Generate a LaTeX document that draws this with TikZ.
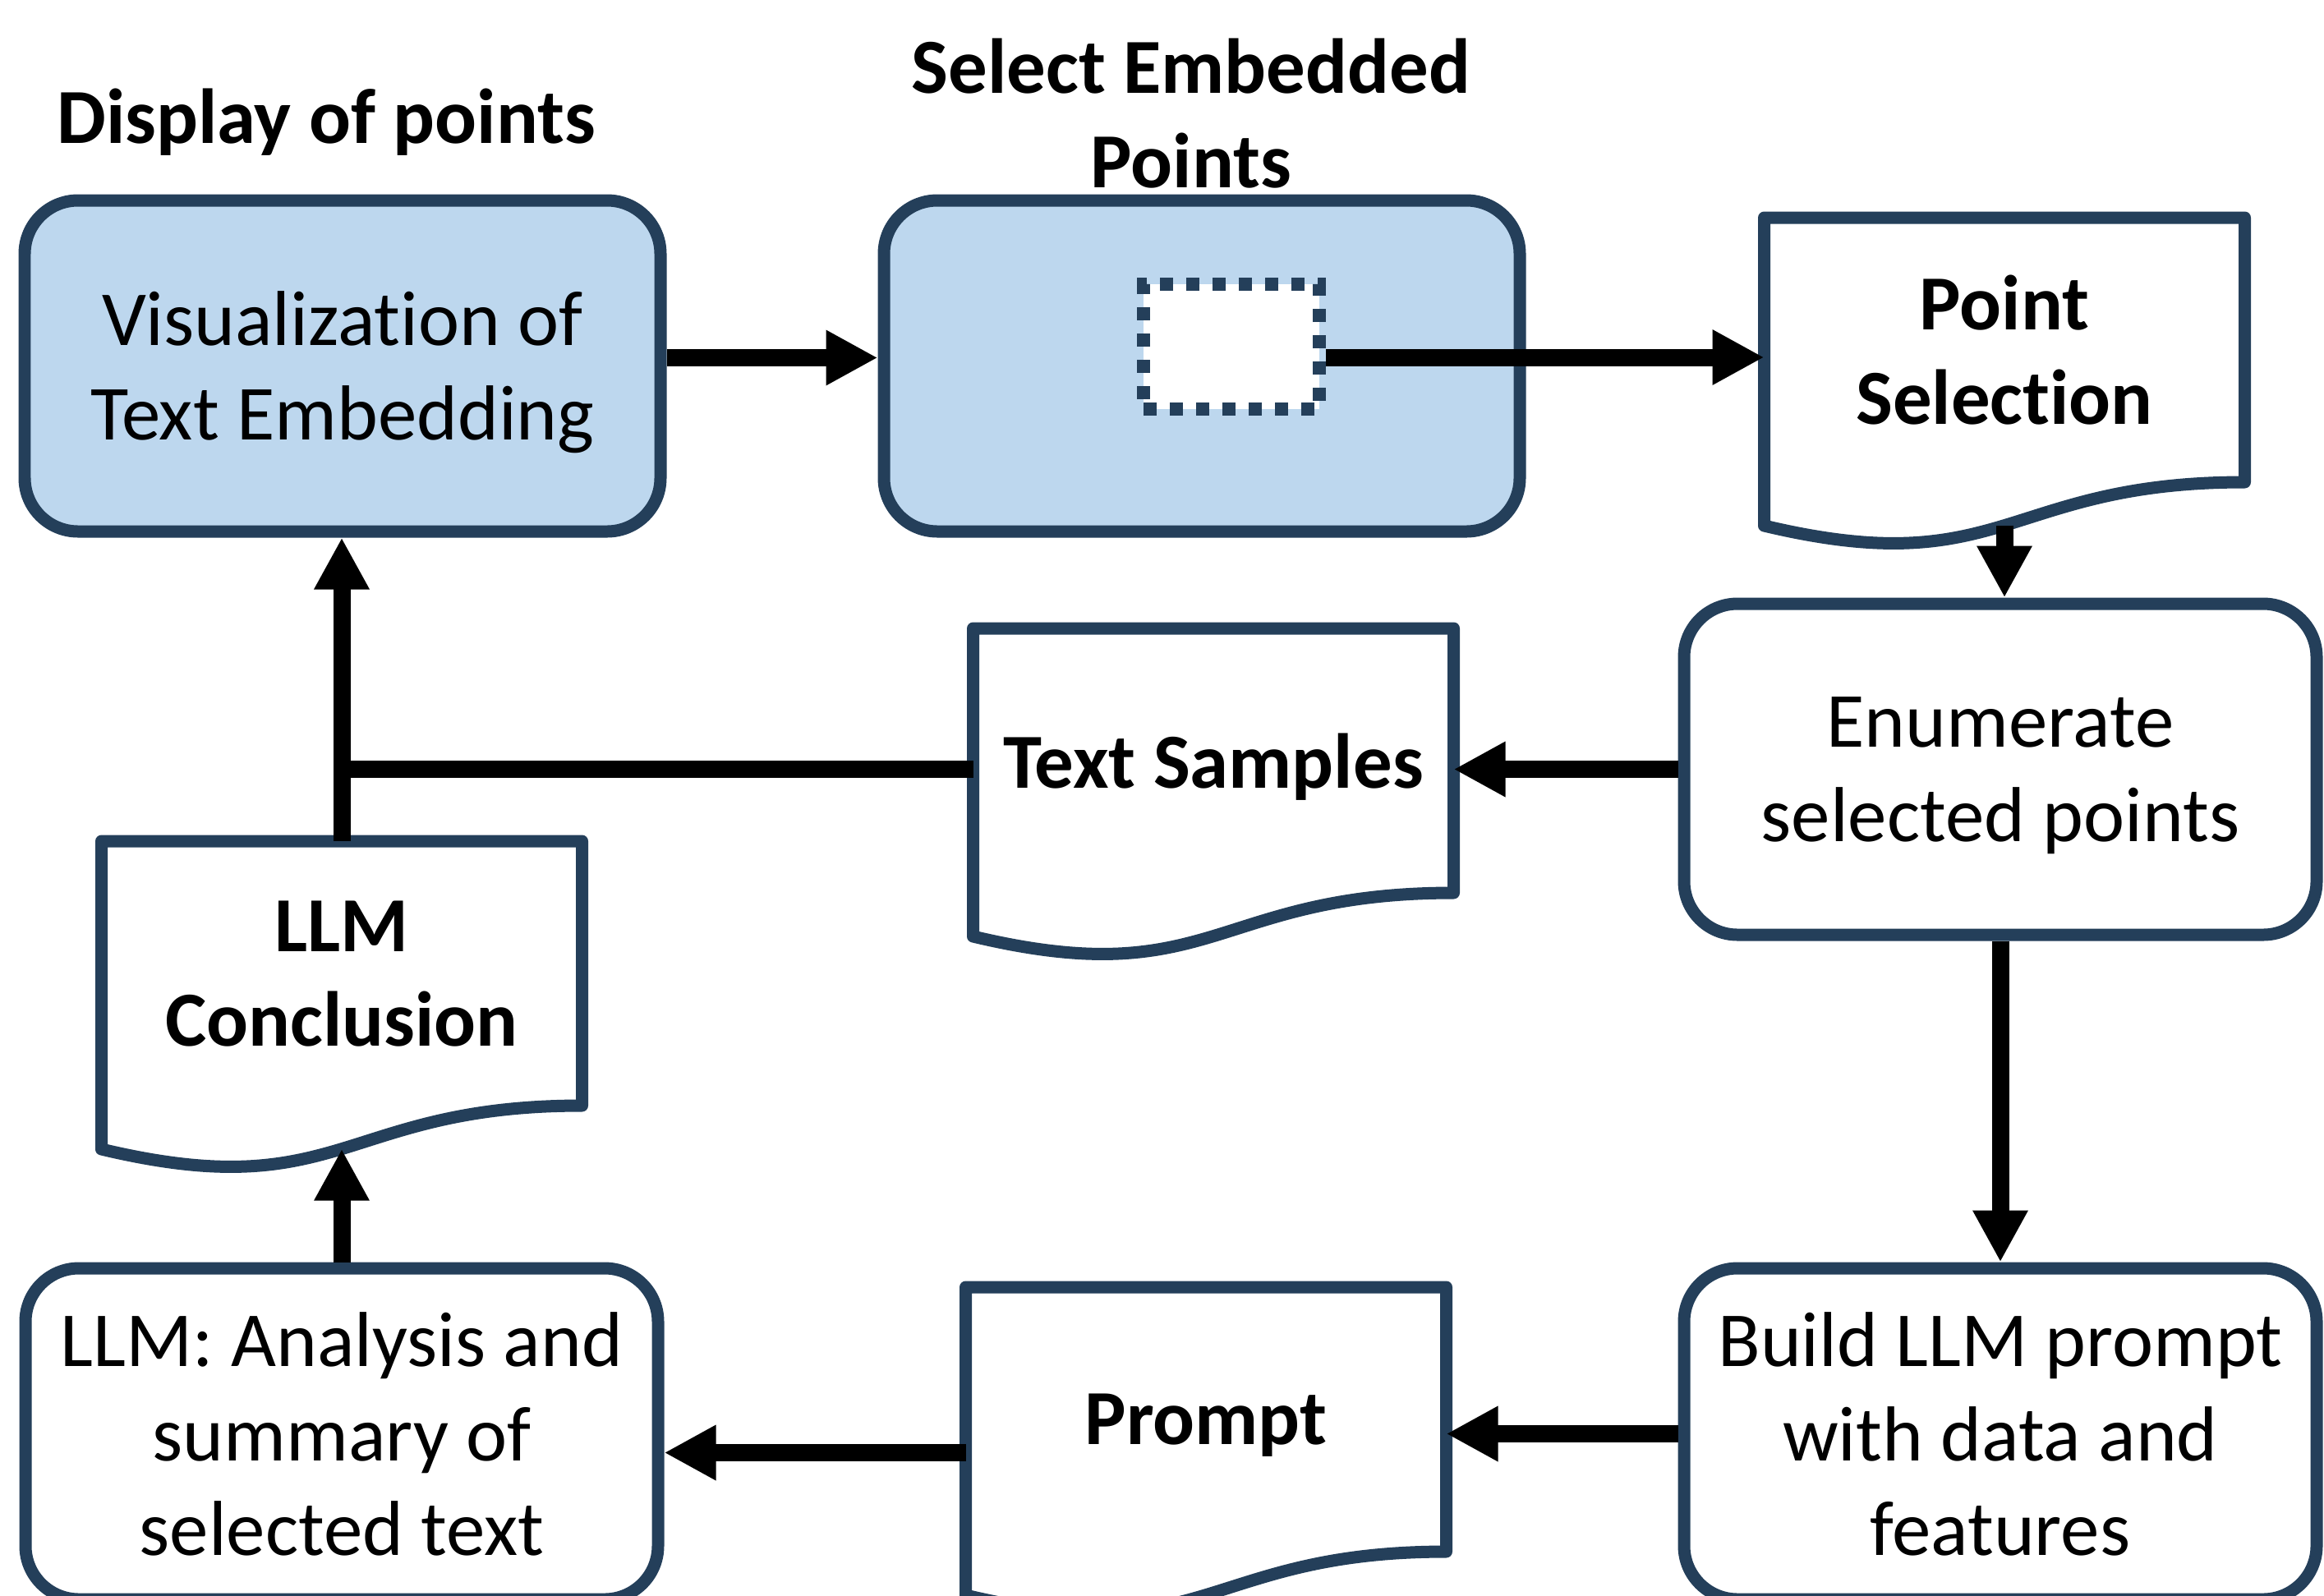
\documentclass[tikz,border=0pt]{standalone}
\usepackage{fontspec}
\setmainfont{Carlito}[Ligatures=NoCommon]
\usepackage{xcolor}
\usepackage{tikz}
\usetikzlibrary{arrows.meta,calc}
\definecolor{EmbBlue}{HTML}{BDD7EE}
\definecolor{EmbEdge}{HTML}{243F5A}
% wavy document outline round a docnode, plus a coordinate on the wave
\newcommand{\docoutline}[1]{%
  \draw[docline] (#1.north west) -- (#1.north east) -- (#1.south east)
    .. controls (#1.south) and ($(#1.south)!-0.381!(#1.north)$) .. ($(#1.south west)!-0.1646!(#1.north west)$) -- cycle;
  \coordinate (#1 wave) at ($(#1.south)!-0.1636!(#1.north)$);}

\begin{document}
\begin{tikzpicture}[font=\fontsize{27}{32.7}\selectfont, >={Triangle[length=0.63cm,width=0.63cm]},
  stage/.style={rounded corners=0.65cm, draw=EmbEdge, line width=0.15cm, fill=EmbBlue, minimum width=7.74cm, minimum height=4.03cm, align=center, inner sep=2pt, text depth=0pt},
  proc/.style={stage, fill=white, minimum width=7.70cm},
  dotbox/.style={draw=EmbEdge, fill=white, line width=0.16cm, dash pattern=on 0.16cm off 0.16cm, minimum width=2.14cm, minimum height=1.52cm, inner sep=0pt},
  docnode/.style={minimum width=5.85cm, minimum height=3.22cm, outer sep=0pt, inner sep=0pt, align=center, text depth=0pt, font=\fontsize{27}{32.7}\selectfont\bfseries},
  docline/.style={draw=EmbEdge, line width=0.15cm, line join=round},
  title/.style={font=\fontsize{27}{32.7}\selectfont\bfseries, align=center},
  arr/.style={->, line width=0.21cm},
  joinline/.style={line width=0.21cm}]
\useasboundingbox (0,0) rectangle (28.29,-19.42);

\node[title, anchor=base] (disptitle) at (3.97,-1.74) {Display of points};
\node[title, anchor=base] (seltitle) at (14.50,-2.28) {Select Embedded\\Points};

\node[stage] (vis) at (4.17,-4.455) {Visualization of\\Text Embedding};
\node[stage] (selbox) at (14.63,-4.455) {};
\node[dotbox] (selarea) at (14.99,-4.22) {};
\node[docnode] (pointsel) at (24.40,-4.26) {Point\\Selection};
\docoutline{pointsel}

\node[proc] (enumpts) at (24.35,-9.365) {Enumerate\\selected points};
\node[docnode] (samples) at (14.77,-9.26) {Text Samples};
\docoutline{samples}
\node[docnode] (llmconc) at (4.16,-11.85) {LLM\\Conclusion};
\docoutline{llmconc}

\node[proc] (llmsum) at (4.16,-17.455) {LLM: Analysis and\\summary of\\selected text};
\node[docnode] (prompt) at (14.68,-17.28) {Prompt};
\docoutline{prompt}
\node[proc] (buildp) at (24.35,-17.455) {Build LLM prompt\\with data and\\features};

\draw[arr] ([yshift=0.1cm]vis.east) -- ([yshift=0.1cm]selbox.west);
\draw[arr] ([yshift=-0.13cm]selarea.east) -- ([yshift=-0.13cm]selarea.east -| pointsel.west);
\draw[arr] (pointsel wave) -- (pointsel wave |- enumpts.north);
\draw[arr] (enumpts.west) -- (enumpts.west -| samples.east);
\draw[joinline] (enumpts.west -| samples.west) -- (enumpts.west -| llmconc.north);
\draw[arr] (llmconc.north) -- (llmconc.north |- vis.south);
\draw[arr] (enumpts.south) -- (buildp.north);
\draw[arr] (buildp.west) -- (buildp.west -| prompt.east);
\draw[arr] ([yshift=-0.23cm]llmsum.east -| prompt.west) -- ([yshift=-0.23cm]llmsum.east);
\draw[arr] (llmsum.north) -- (llmconc wave);
\end{tikzpicture}
\end{document}
